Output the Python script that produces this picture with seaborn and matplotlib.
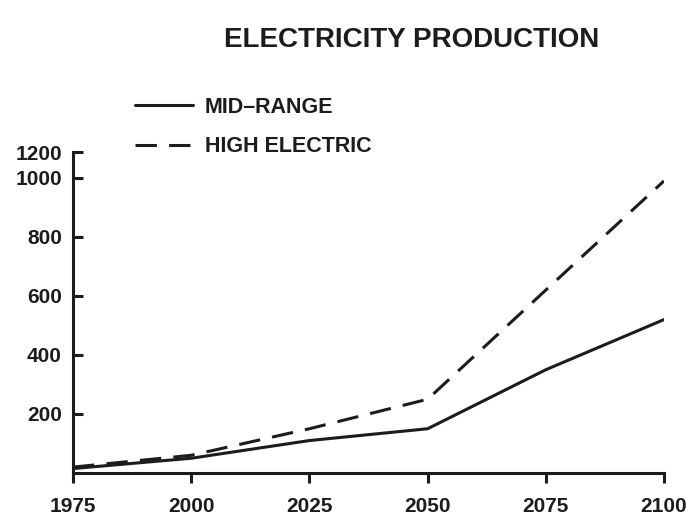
import pandas as pd
import matplotlib
matplotlib.use("Agg")
import matplotlib.pyplot as plt
import seaborn as sns

# values
years = [1975, 2000, 2025, 2050, 2075, 2100]
mid_range = [15, 50, 110, 150, 350, 520]
high_electric = [20, 60, 150, 250, 620, 990]
series_names = ["MID–RANGE", "HIGH ELECTRIC"]
y_ticks = [200, 400, 600, 800, 1000]
y_top = 1088  # the drawn axis stops short of a true 1200
y_tick_labels = ["200", "400", "600", "800", "1000", "1200"]

sns.set_style("ticks")
plt.rcParams["font.family"] = ["Liberation Sans", "DejaVu Sans"]

ink = "#1c1c1c"

df = pd.DataFrame({
    "year": years * 2,
    "value": mid_range + high_electric,
    "scenario": [series_names[0]] * len(years) + [series_names[1]] * len(years),
})

fig = plt.figure(figsize=(6.94, 5.28), dpi=100)
ax = fig.add_axes([73 / 694, 1 - 473 / 528, (664 - 73) / 694, (473 - 152) / 528])

sns.lineplot(
    data=df, x="year", y="value", style="scenario",
    dashes={series_names[0]: "", series_names[1]: (7, 4)},
    color=ink, linewidth=2.2, ax=ax,
)

ax.set_xlim(1975, 2100)
ax.set_ylim(0, y_top)
ax.set_xticks(years)
ax.set_xticklabels([str(y) for y in years], fontsize=15, fontweight="bold", color=ink)
ax.set_yticks(y_ticks + [y_top])
ax.set_yticklabels(y_tick_labels, fontsize=15, fontweight="bold", color=ink)
ax.tick_params(axis="x", direction="out", length=7, width=2.2, color=ink, pad=10)
ax.tick_params(axis="y", direction="in", length=7, width=2.2, color=ink, pad=8)
ax.set_xlabel("")
ax.set_ylabel("")
sns.despine(ax=ax)
for side in ["left", "bottom"]:
    ax.spines[side].set_linewidth(2.2)
    ax.spines[side].set_color(ink)

handles, labels = ax.get_legend_handles_labels()
ax.legend(
    handles, labels, frameon=False, prop={"size": 15.5, "weight": "bold"},
    loc="upper left", bbox_to_anchor=(135 / 694, 1 - 97 / 528),
    bbox_transform=fig.transFigure, borderpad=0, borderaxespad=0,
    handlelength=2.7, handletextpad=0.55, labelspacing=0.85,
)
for t in ax.get_legend().get_texts():
    t.set_color(ink)

fig.text(412 / 694, 1 - 40 / 528, "ELECTRICITY PRODUCTION", ha="center", va="center",
         fontsize=20, fontweight="bold", color=ink)

fig.savefig("out.png", dpi=100)
